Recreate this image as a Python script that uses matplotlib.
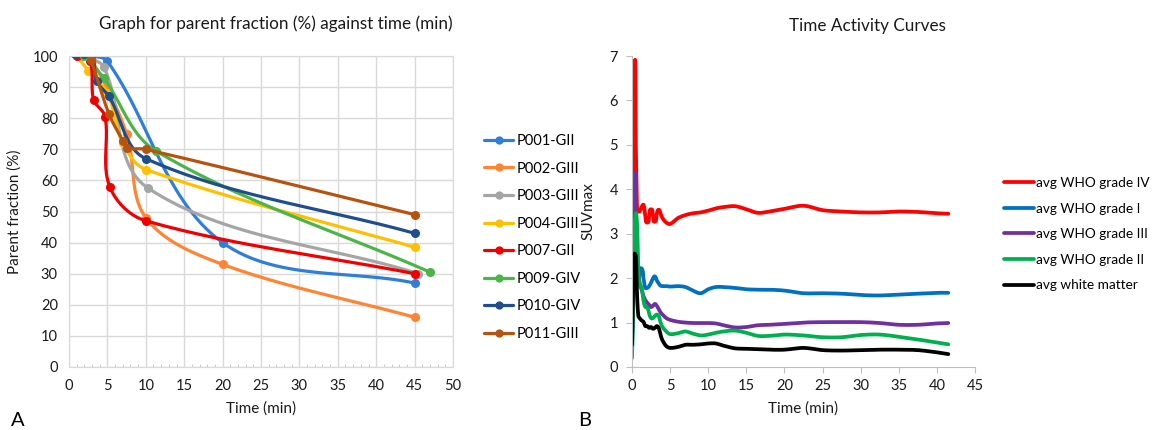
import numpy as np
import matplotlib
matplotlib.use("Agg")
import matplotlib.pyplot as plt
from matplotlib.ticker import MultipleLocator

plt.rcParams['font.family'] = ['Lato', 'DejaVu Sans']

# ---- panel A: parent fraction (%) vs time (min) ----
patients = ['P001-GII', 'P002-GIII', 'P003-GIII', 'P004-GIII',
            'P007-GII', 'P009-GIV', 'P010-GIV', 'P011-GIII']
patient_colors = ['#2F7ED8', '#FF8533', '#A5A5A5', '#FFC000',
                  '#F00000', '#4CB548', '#1F4E8C', '#B5530F']

p001_t = [1.5, 2.5, 5.0, 20.0, 45.0]
p001_v = [100.0, 100.0, 98.3, 40.0, 27.0]
p002_t = [1.5, 3.0, 7.5, 10.0, 20.0, 45.0]
p002_v = [100.0, 98.5, 75.0, 48.0, 33.0, 16.0]
p003_t = [1.5, 4.5, 10.3, 45.5]
p003_v = [100.0, 96.5, 57.5, 30.0]
p004_t = [1.0, 2.5, 5.0, 7.0, 10.0, 45.0]
p004_v = [100.0, 95.3, 88.0, 72.0, 63.5, 38.5]
p007_t = [1.0, 2.7, 3.2, 4.7, 5.3, 10.0, 45.0]
p007_v = [100.0, 98.5, 86.0, 80.5, 58.0, 47.0, 30.0]
p009_t = [2.0, 4.5, 11.3, 47.0]
p009_v = [100.0, 93.0, 69.5, 30.5]
p010_t = [0.8, 2.0, 3.0, 3.6, 5.2, 10.0, 45.0]
p010_v = [100.5, 100.5, 100.5, 92.0, 87.0, 67.0, 43.0]
p011_t = [2.9, 5.2, 7.0, 7.6, 10.0, 45.0]
p011_v = [98.7, 81.4, 72.8, 70.5, 70.0, 49.0]

pf_times = [p001_t, p002_t, p003_t, p004_t, p007_t, p009_t, p010_t, p011_t]
pf_values = [p001_v, p002_v, p003_v, p004_v, p007_v, p009_v, p010_v, p011_v]

# ---- panel B: time activity curves ----
tac_time = [0, 0.17, 0.33, 0.5, 0.67, 0.83, 1.0, 1.25, 1.5, 1.75, 2.0, 2.25,
            2.5, 2.75, 3.0, 3.25, 3.5, 3.75, 4.0, 4.5, 5.0, 6.0, 7.0, 8.0,
            9.0, 10.0, 11.0, 12.0, 13.5, 15.0, 16.5, 18.0, 20.0, 22.5, 25.0,
            27.5, 30.0, 32.5, 35.0, 37.5, 40.0, 41.5]
grade4 = [0.3, 4.0, 6.8, 5.0, 3.55, 3.5, 3.5, 3.6, 3.65, 3.4, 3.25, 3.4,
          3.55, 3.4, 3.27, 3.45, 3.54, 3.45, 3.35, 3.25, 3.22, 3.35, 3.42, 3.46,
          3.48, 3.52, 3.57, 3.6, 3.62, 3.55, 3.47, 3.5, 3.56, 3.63, 3.53,
          3.5, 3.48, 3.48, 3.5, 3.49, 3.46, 3.45]
grade1 = [0.25, 1.5, 2.4, 2.5, 2.2, 2.0, 2.1, 2.22, 2.0, 1.78, 1.78, 1.82,
          1.9, 2.0, 2.04, 1.95, 1.88, 1.83, 1.82, 1.82, 1.81, 1.82, 1.8, 1.72,
          1.66, 1.75, 1.8, 1.8, 1.78, 1.75, 1.74, 1.74, 1.72, 1.66, 1.66,
          1.65, 1.62, 1.61, 1.63, 1.65, 1.67, 1.67]
grade3 = [0.4, 3.0, 4.3, 3.3, 2.6, 2.2, 1.9, 1.75, 1.6, 1.5, 1.45, 1.4,
          1.35, 1.38, 1.42, 1.38, 1.3, 1.23, 1.18, 1.1, 1.06, 1.02, 1.0, 0.99,
          0.99, 0.99, 0.98, 0.94, 0.89, 0.9, 0.94, 0.95, 0.97, 1.0, 1.01,
          1.01, 1.01, 0.99, 0.95, 0.95, 0.98, 0.99]
grade2 = [0.2, 1.5, 2.8, 3.45, 3.2, 2.2, 1.85, 1.8, 1.5, 1.35, 1.35, 1.2,
          1.1, 1.1, 1.15, 1.18, 1.15, 1.0, 0.9, 0.8, 0.74, 0.76, 0.8, 0.75,
          0.71, 0.73, 0.77, 0.8, 0.82, 0.77, 0.7, 0.7, 0.73, 0.71, 0.67,
          0.67, 0.72, 0.73, 0.68, 0.62, 0.55, 0.51]
white_matter = [0.5, 2.0, 2.55, 2.5, 1.6, 1.15, 1.1, 1.05, 1.02, 0.92, 0.92, 0.88,
                0.9, 0.86, 0.88, 0.92, 0.88, 0.72, 0.6, 0.47, 0.43, 0.45, 0.5, 0.5,
                0.51, 0.53, 0.53, 0.48, 0.42, 0.41, 0.4, 0.39, 0.39, 0.43, 0.38,
                0.37, 0.38, 0.39, 0.39, 0.38, 0.33, 0.29]

tac_labels = ['avg WHO grade IV', 'avg WHO grade I', 'avg WHO grade III',
              'avg WHO grade II', 'avg white matter']
tac_values = [grade4, grade1, grade3, grade2, white_matter]
tac_colors = ['#FF0000', '#0070C0', '#7030A0', '#00B050', '#000000']

TXT = '#1A1A1A'


def smooth(x, y, sx, sy, n=30):
    """Excel-like smoothed line: cubic Bezier through the points,
    computed in (roughly) screen-scaled coordinates."""
    p = np.column_stack([np.asarray(x, float) * sx, np.asarray(y, float) * sy])
    m = len(p)
    tang = np.zeros_like(p)
    for i in range(m):
        d = p[min(i + 1, m - 1)] - p[max(i - 1, 0)]
        nrm = np.hypot(*d)
        if nrm > 0:
            tang[i] = d / nrm
    s = np.linspace(0, 1, n, endpoint=False)[:, None]
    out = []
    for i in range(m - 1):
        a, b = p[i], p[i + 1]
        L = np.hypot(*(b - a)) / 3
        c1 = a + tang[i] * L
        c2 = b - tang[i + 1] * L
        out.append((1 - s) ** 3 * a + 3 * (1 - s) ** 2 * s * c1
                   + 3 * (1 - s) * s ** 2 * c2 + s ** 3 * b)
    out.append(p[-1:])
    pts = np.vstack(out)
    return pts[:, 0] / sx, pts[:, 1] / sy, list(range(0, m * n, n))


fig = plt.figure(figsize=(11.53, 4.30), dpi=100)
W, H = 1153, 430

# ---------------- panel A ----------------
ax1 = fig.add_axes([69 / W, 1 - 367 / H, 384 / W, 311 / H])
for name, col, t, v in zip(patients, patient_colors, pf_times, pf_values):
    cx, cy, idx = smooth(t, v, 384 / 50, 311 / 100)
    ax1.plot(cx, cy, color=col, lw=2.3, marker='o', markersize=5.5,
             markevery=idx, label=name, solid_capstyle='round')
ax1.set_xlim(0, 50)
ax1.set_ylim(0, 100)
ax1.xaxis.set_major_locator(MultipleLocator(5))
ax1.xaxis.set_minor_locator(MultipleLocator(1))
ax1.yaxis.set_major_locator(MultipleLocator(10))
ax1.grid(True, which='major', color='#D9D9D9', lw=1.0)
ax1.set_axisbelow(True)
for sp in ax1.spines.values():
    sp.set_color('#D9D9D9')
ax1.tick_params(axis='both', which='major', length=0, labelsize=10.5,
                colors=TXT)
ax1.tick_params(axis='x', which='major', pad=9)
ax1.tick_params(axis='y', which='major', pad=8)
ax1.tick_params(axis='x', which='minor', length=2.5, direction='in',
                color='#BFBFBF')
ax1.set_xlabel('Time (min)', fontsize=11, color=TXT, labelpad=6)
ax1.set_ylabel('Parent fraction (%)', fontsize=11, color=TXT, labelpad=8)
fig.text(276 / W, 1 - 24 / H, 'Graph for parent fraction (%) against time (min)',
         ha='center', va='center', fontsize=12.3, color=TXT)
ax1.legend(loc='upper left', bbox_to_anchor=(484 / W, 1 - 134 / H),
           bbox_transform=fig.transFigure, frameon=False, fontsize=10.5,
           handlelength=2.0, handletextpad=0.25, labelspacing=0.93,
           borderpad=0, borderaxespad=0, markerscale=0.9)

# ---------------- panel B ----------------
ax2 = fig.add_axes([632 / W, 1 - 367 / H, 343 / W, 311 / H])
for name, col, v in zip(tac_labels, tac_colors, tac_values):
    cx, cy, _ = smooth(tac_time, v, 343 / 45, 311 / 7, n=12)
    ax2.plot(cx, cy, color=col, lw=2.7, label=name, solid_capstyle='round')
ax2.set_xlim(0, 45)
ax2.set_ylim(0, 7)
ax2.xaxis.set_major_locator(MultipleLocator(5))
ax2.yaxis.set_major_locator(MultipleLocator(1))
for side in ('top', 'right'):
    ax2.spines[side].set_visible(False)
for side in ('left', 'bottom'):
    ax2.spines[side].set_color('#BFBFBF')
ax2.tick_params(axis='both', length=4, color='#BFBFBF', labelsize=10.5,
                labelcolor=TXT)
ax2.tick_params(axis='x', pad=5)
ax2.tick_params(axis='y', pad=6)
ax2.set_xlabel('Time (min)', fontsize=11, color=TXT, labelpad=6)
ax2.set_ylabel('SUVmax', fontsize=11, color=TXT, labelpad=10)
fig.text(867 / W, 1 - 26 / H, 'Time Activity Curves',
         ha='center', va='center', fontsize=12.3, color=TXT)
ax2.legend(loc='upper left', bbox_to_anchor=(1004 / W, 1 - 177 / H),
           bbox_transform=fig.transFigure, frameon=False, fontsize=9.8,
           handlelength=2.2, handletextpad=0.12, labelspacing=1.0,
           borderpad=0, borderaxespad=0)

fig.text(18 / W, 1 - 420 / H, 'A', fontsize=14.5, ha='center', va='center')
fig.text(585 / W, 1 - 420 / H, 'B', fontsize=14.5, ha='center', va='center')

fig.savefig('out.png', dpi=100)
